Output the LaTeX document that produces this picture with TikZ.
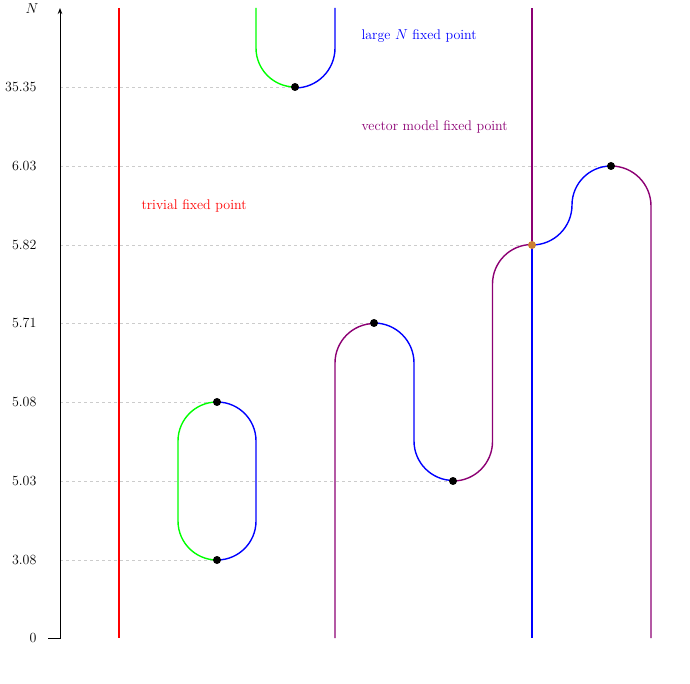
\documentclass[tikz,border=0pt]{standalone}
\usetikzlibrary{arrows.meta}
\begin{document}
\begin{tikzpicture}[x=1pt,y=1pt,
  flow/.style={line width=1.4pt},
  grid/.style={gray!40,dashed,line width=0.8pt},
  fp/.style={circle,fill=black,inner sep=0pt,minimum size=8pt},
  txt/.style={font=\fontsize{14}{16}\selectfont},
  lbl/.style={txt,anchor=west}]
\useasboundingbox (0,0) rectangle (690,683);
\colorlet{vm}{violet!80!purple}
\foreach \y/\t in {45/0,123/3.08,202/5.03,281/5.08,360/5.71,438/5.82,517/6.03,596/35.35}
  \node[txt,anchor=east] (t\y) at (40,\y) {\t};
\draw[grid] (60,596) -- (295,596);
\draw[grid] (60,517) -- (611,517);
\draw[grid] (60,438) -- (532,438);
\draw[grid] (60,360) -- (374,360);
\draw[grid] (60,281) -- (217,281);
\draw[grid] (60,202) -- (453,202);
\draw[grid] (60,123) -- (217,123);
\draw[-{Stealth[length=6pt]},line width=1pt] (48,45) -- (60,45) -- (60,675);
\node[txt,anchor=east] (N) at (42,674) {$N$};
\draw[flow,draw=red] (119,675) -- (119,45);
\draw[flow,draw=green] (217,281) arc[start angle=90,end angle=180,radius=39] -- (178,162) arc[start angle=180,end angle=270,radius=39];
\draw[flow,draw=blue] (217,281) arc[start angle=90,end angle=0,radius=39] -- (256,162) arc[start angle=0,end angle=-90,radius=39];
\draw[flow,draw=green] (256,675) -- (256,635) arc[start angle=180,end angle=270,radius=39];
\draw[flow,draw=blue] (335,675) -- (335,635) arc[start angle=0,end angle=-90,radius=40];
\draw[flow,draw=vm] (335,45) -- (335,320) arc[start angle=180,end angle=90,radius=39.5];
\draw[flow,draw=blue] (374,360) arc[start angle=90,end angle=0,radius=40] -- (414,242) arc[start angle=180,end angle=270,radius=39.5];
\draw[flow,draw=vm] (453,202) arc[start angle=-90,end angle=0,radius=39.5] -- (492.5,399) arc[start angle=180,end angle=90,radius=39.5];
\draw[flow,draw=vm] (532,438) -- (532,675);
\draw[flow,draw=blue] (532,438) -- (532,45);
\draw[flow,draw=blue] (532,438) arc[start angle=-90,end angle=0,radius=40] arc[start angle=180,end angle=90,radius=39];
\draw[flow,draw=vm] (611,517) arc[start angle=90,end angle=0,radius=40] -- (651,45);
\node[fp] (p1) at (295,596) {};
\node[fp] (p2) at (611,517) {};
\node[fp,fill=brown!80!orange] (p3) at (532,438) {};
\node[fp] (p4) at (374,360) {};
\node[fp] (p5) at (217,281) {};
\node[fp] (p6) at (453,202) {};
\node[fp] (p7) at (217,123) {};
\node[lbl,text=blue] (l1) at (358,647) {large $N$ fixed point};
\node[lbl,text=vm] (l2) at (358,556) {vector model fixed point};
\node[lbl,text=red] (l3) at (138,477) {trivial fixed point};
\end{tikzpicture}
\end{document}
